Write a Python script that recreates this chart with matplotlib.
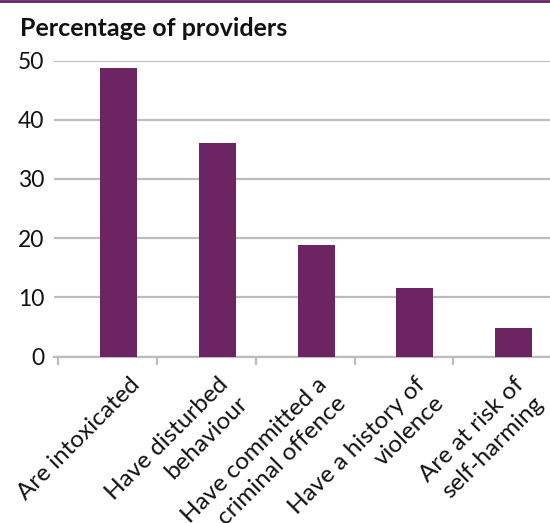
import matplotlib
matplotlib.use("Agg")
import matplotlib.pyplot as plt
import matplotlib.transforms as mtransforms
from matplotlib.lines import Line2D

# chart data
categories = [
    "Are intoxicated",
    "Have disturbed\nbehaviour",
    "Have committed a\ncriminal offence",
    "Have a history of\nviolence",
    "Are at risk of\nself-harming",
]
percent = [48.7, 36.0, 18.9, 11.6, 4.9]
y_ticks = [0, 10, 20, 30, 40, 50]

purple = "#6C2462"
grey = "#BCBCBC"

plt.rcParams["font.family"] = ["Lato", "DejaVu Sans"]

W, H = 550, 523
fig = plt.figure(figsize=(W / 100, H / 100), dpi=100)
ax = fig.add_axes([54 / W, 1 - 356.6 / H, (W - 54) / W, (356.6 - 60.5) / H])

xs = list(range(len(categories)))
ax.bar(xs, percent, width=0.375, color=purple, zorder=3)

ax.set_ylim(0, 50)
ax.set_xlim(-0.655, 4.37)
ax.set_yticks(y_ticks)
ax.set_yticklabels([str(t) for t in y_ticks], fontsize=16.5, color="#111111")
ax.tick_params(axis="y", length=0, pad=7)
ax.grid(axis="y", color=grey, linewidth=1.6, zorder=0)

# category labels under bars, tick marks between categories
ax.set_xticks(xs)
ax.set_xticklabels(categories, rotation=45, ha="right", va="top",
                   rotation_mode="anchor", fontsize=17.5, color="#111111",
                   multialignment="right", linespacing=1.35)
ax.tick_params(axis="x", which="major", length=0, pad=0)
for lbl in ax.get_xticklabels():
    # single-line label sits a little further right in the original
    dx = 10 if "\n" not in lbl.get_text() else 0
    offset = mtransforms.ScaledTranslation(dx / 100, -17 / 100, fig.dpi_scale_trans)
    lbl.set_transform(lbl.get_transform() + offset)
ax.set_xticks([x - 0.61 for x in xs], minor=True)
ax.tick_params(axis="x", which="minor", length=6, width=1.6, color=grey, direction="out")

for s in ["top", "right", "left"]:
    ax.spines[s].set_visible(False)
ax.spines["bottom"].set_color(grey)
ax.spines["bottom"].set_linewidth(1.6)

fig.text(20 / W, 1 - 36.5 / H, "Percentage of providers", fontsize=18,
         fontweight="bold", color="#111111", ha="left", va="baseline")

# purple rule along the top edge
fig.add_artist(Line2D([0, 1], [1 - 1.2 / H, 1 - 1.2 / H], transform=fig.transFigure,
                      color=purple, linewidth=2))

fig.savefig("out.png", dpi=100)
